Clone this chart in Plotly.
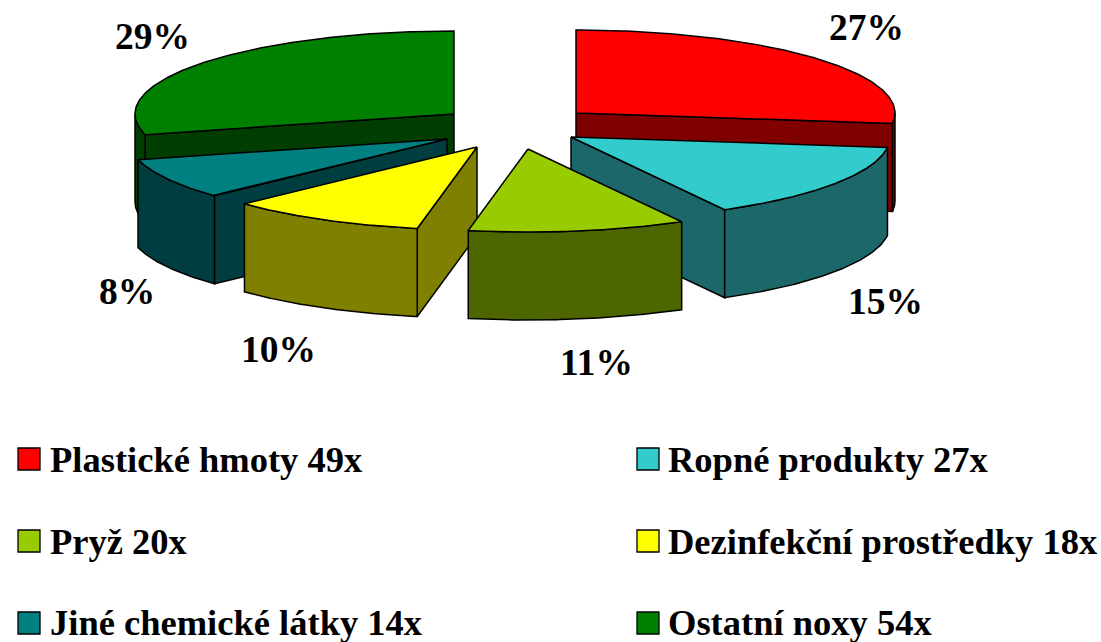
import numpy as np
import plotly.graph_objects as go

# ---- data ----
names = ["Plastické hmoty", "Ropné produkty", "Pryž",
         "Dezinfekční prostředky", "Jiné chemické látky", "Ostatní noxy"]
counts = [49, 27, 20, 18, 14, 54]
percents = [27, 15, 11, 10, 8, 29]

# ---- style ----
top_colors = ["#FF0000", "#33CCCC", "#99CC00", "#FFFF00", "#008080", "#008000"]
side_colors = ["#800000", "#1C6769", "#4D6600", "#808000", "#003D40", "#003D00"]

# ---- layout (pixels on a 1101x642 canvas) ----
W, H = 1101, 642
RX, RY, DEPTH = 319, 83, 88
apex_x = [576, 571, 528, 477, 447, 454]
apex_y = [113, 137, 149, 147, 139, 114]
draw_order = [0, 5, 1, 4, 3, 2]
label_x = [866, 885, 596, 278, 127, 152]
label_y = [27, 301, 362, 349, 291, 36]
legend_x = [29, 648, 29, 648, 29, 648]
legend_y = [459, 459, 541, 541, 623, 623]
text_x = [48, 666, 48, 666, 48, 666]
text_y = [459, 459, 541, 541, 622, 622]

cum = np.cumsum([0] + percents) / sum(percents) * 360.0


def pt(i, a):
    r = np.radians(a)
    return apex_x[i] + RX * np.sin(r), apex_y[i] - RY * np.cos(r)


def poly(xs, ys, color):
    return go.Scatter(x=list(xs) + [xs[0]], y=list(ys) + [ys[0]], mode="lines",
                      fill="toself", fillcolor=color,
                      line=dict(color="black", width=1.5),
                      hoverinfo="skip", showlegend=False)


fig = go.Figure()
for i in draw_order:
    a0, a1 = cum[i], cum[i + 1]
    ax, ay = apex_x[i], apex_y[i]
    side = side_colors[i]
    # radial faces: start face looks along a0-90, end face along a1+90
    for a, normal in ((a0, a0 - 90), (a1, a1 + 90)):
        if -np.cos(np.radians(normal)) > 0:
            x, y = pt(i, a)
            fig.add_trace(poly([ax, x, x, ax], [ay, y, y + DEPTH, ay + DEPTH], side))
    # outer rim, front half only
    lo, hi = max(a0, 90), min(a1, 270)
    if hi > lo:
        t = np.linspace(lo, hi, 80)
        x, y = pt(i, t)
        fig.add_trace(poly(np.r_[x, x[::-1]], np.r_[y, y[::-1] + DEPTH], side))
    # top face
    t = np.linspace(a0, a1, 160)
    x, y = pt(i, t)
    fig.add_trace(poly(np.r_[ax, x], np.r_[ay, y], top_colors[i]))

# legend swatches
fig.add_trace(go.Scatter(x=legend_x, y=legend_y, mode="markers", hoverinfo="skip", showlegend=False,
                         marker=dict(symbol="square", size=22, color=top_colors,
                                     line=dict(color="black", width=1.3))))

FONT = "Liberation Serif"
for i in range(len(names)):
    fig.add_annotation(x=label_x[i], y=label_y[i], text=f"<b>{percents[i]}%</b>", showarrow=False,
                       xanchor="center", yanchor="middle",
                       font=dict(family=FONT, size=37.5, color="black"))
    fig.add_annotation(x=text_x[i], y=text_y[i],
                       text=f"<b>{names[i]} {counts[i]}x</b>", showarrow=False,
                       xanchor="left", yanchor="middle",
                       font=dict(family=FONT, size=36.5, color="black"))

fig.update_xaxes(range=[0, W], visible=False, fixedrange=True)
fig.update_yaxes(range=[H, 0], visible=False, fixedrange=True)
fig.update_layout(width=W, height=H, margin=dict(l=0, r=0, t=0, b=0),
                  paper_bgcolor="white", plot_bgcolor="white", showlegend=False)
fig.write_html("out.html", config={"displayModeBar": False},
               post_script="document.body.style.margin='0';document.body.style.overflow='hidden';")
